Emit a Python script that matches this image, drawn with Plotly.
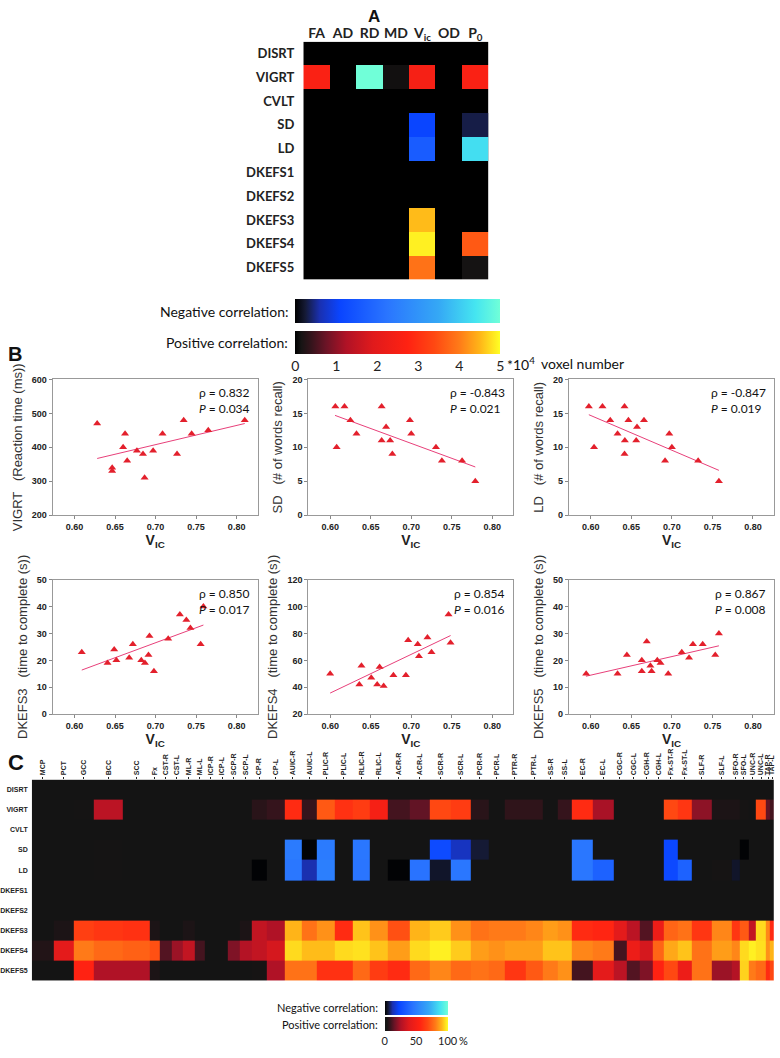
import plotly.graph_objects as go

W, H = 780, 1058
def px(x): return x / W
def py(y): return 1 - y / H

# ---------------- Panel A data ----------------
a_tests = ["DISRT", "VIGRT", "CVLT", "SD", "LD", "DKEFS1", "DKEFS2", "DKEFS3", "DKEFS4", "DKEFS5"]
a_metrics = ["FA", "AD", "RD", "MD", "V<sub>ic</sub>", "OD", "P<sub>0</sub>"]
# voxel number (x10^4) with positive correlation
a_pos = [
    [0, 0, 0, 0, 0, 0, 0],
    [2.6, 0, 0, 0.12, 2.5, 0, 2.6],
    [0, 0, 0, 0, 0, 0, 0],
    [0, 0, 0, 0, 0, 0, 0],
    [0, 0, 0, 0, 0, 0, 0],
    [0, 0, 0, 0, 0, 0, 0],
    [0, 0, 0, 0, 0, 0, 0],
    [0, 0, 0, 0, 4.55, 0, 0],
    [0, 0, 0, 0, 4.9, 0, 3.6],
    [0, 0, 0, 0, 3.9, 0, 0.14],
]
# voxel number (x10^4) with negative correlation
a_neg = [
    [None] * 7,
    [None, None, 5.0, None, None, None, None],
    [None] * 7,
    [None, None, None, None, 1.1, None, 0.3],
    [None, None, None, None, 1.65, None, 4.3],
    [None] * 7,
    [None] * 7,
    [None] * 7,
    [None] * 7,
    [None] * 7,
]
a_ticks = [0, 1, 2, 3, 4, 5]

# ---------------- Panel B data ----------------
vic1 = [0.628, 0.6465, 0.6465, 0.6624, 0.660, 0.665, 0.677, 0.6845, 0.6865, 0.697, 0.7086, 0.7265, 0.7347, 0.7445, 0.765, 0.81]
vigrt = [470, 340, 330, 440, 400, 360, 390, 380, 310, 390, 440, 380, 480, 440, 450, 480]
vic2 = [0.6064, 0.608, 0.6177, 0.625, 0.6325, 0.6635, 0.6635, 0.669, 0.674, 0.6767, 0.6984, 0.700, 0.7305, 0.7378, 0.7627, 0.779]
sd = [16, 10, 16, 14, 12, 16, 11, 13, 11, 9, 14, 12, 10, 8, 8, 5]
vic3 = [0.5976, 0.604, 0.6144, 0.624, 0.633, 0.6416, 0.642, 0.6416, 0.6464, 0.656, 0.657, 0.6656, 0.6916, 0.6968, 0.700, 0.7324, 0.758]
ld = [16, 10, 16, 14, 12, 16, 11, 9, 14, 11, 13, 14, 8, 12, 10, 8, 5]
vic4 = [0.609, 0.6408, 0.649, 0.6517, 0.6675, 0.672, 0.6824, 0.6869, 0.6913, 0.6925, 0.698, 0.7156, 0.730, 0.738, 0.743, 0.7556, 0.759]
dkefs3 = [23, 19, 24, 20, 21, 26, 20, 19, 22, 29, 16, 28, 37, 35, 32, 26, 40]
vic5 = [0.600, 0.636, 0.6386, 0.6507, 0.658, 0.661, 0.666, 0.678, 0.6934, 0.6962, 0.708, 0.7095, 0.720, 0.725, 0.746, 0.7485]
dkefs4 = [50, 42, 56, 47, 42, 55, 41, 49, 49, 75, 72, 63, 77, 66, 94, 73]
vic6 = [0.5943, 0.633, 0.6445, 0.6629, 0.6629, 0.669, 0.6735, 0.675, 0.682, 0.686, 0.6955, 0.7122, 0.7212, 0.726, 0.738, 0.7535, 0.758]
dkefs5 = [15, 15, 22, 20, 16, 27, 18, 16, 20, 19, 15, 23, 21, 26, 26, 22, 30]

fit_x = [[0.628, 0.81], [0.606, 0.779], [0.5976, 0.758], [0.609, 0.759], [0.600, 0.7485], [0.594, 0.758]]
fit_y = [[367, 470], [14.7, 7.1], [14.8, 6.6], [16.4, 33.1], [35.7, 78.4], [14.1, 25.4]]
rhos = ["0.832", "-0.843", "-0.847", "0.850", "0.854", "0.867"]
pvals = ["0.034", "0.021", "0.019", "0.017", "0.016", "0.008"]
ytitles = ["VIGRT   (Reaction time (ms))", "SD   (# of words recall)", "LD   (# of words recall)",
           "DKEFS3   (time to complete (s))", "DKEFS4   (time to complete (s))", "DKEFS5   (time to complete (s))"]
yranges = [[200, 600], [0, 20], [0, 20], [0, 50], [20, 120], [0, 50]]
ydticks = [100, 5, 5, 10, 20, 10]
x_ticks = [0.60, 0.65, 0.70, 0.75, 0.80]

# ---------------- Panel C data ----------------
c_tests = a_tests
c_tracts = ["MCP", "PCT", "GCC", "BCC", "SCC", "Fx", "CST-R", "CST-L", "ML-R", "ML-L", "ICP-R", "ICP-L",
            "SCP-R", "SCP-L", "CP-R", "CP-L", "AUIC-R", "AUIC-L", "PLIC-R", "PLIC-L", "RLIC-R", "RLIC-L",
            "ACR-R", "ACR-L", "SCR-R", "SCR-L", "PCR-R", "PCR-L", "PTR-R", "PTR-L", "SS-R", "SS-L",
            "EC-R", "EC-L", "CGC-R", "CGC-L", "CGH-R", "CGH-L", "Fx-ST-R", "Fx-ST-L", "SLF-R", "SLF-L",
            "SFO-R", "SFO-L", "UNC-R", "UNC-L", "TAP-R", "TAP-L"]
# relative column widths of each tract in the chart
c_widths = [22, 20, 21, 29, 27, 10, 12, 11, 12, 11, 11, 12, 12, 12, 15, 18, 17, 16, 18, 18, 17, 18,
            22, 21, 21, 20, 18, 16, 21, 18, 15, 14, 21, 21, 13, 14, 13, 11, 14, 14, 20, 20,
            8, 9, 8, 10, 4, 4]
Z = [0] * 48
c_pos = [
    Z,
    [0, 0, 2, 28, 0, 0, 0, 0, 0, 0, 0, 0, 0, 0, 6, 8, 58, 8, 72, 60, 64, 50,
     10, 14, 68, 64, 6, 0, 7, 7, 0, 8, 58, 24, 0, 0, 0, 0, 68, 62, 20, 4,
     4, 3, 0, 68, 14, 10],
    Z,
    [0, 0, 0, 2, 0, 0, 0, 0, 0, 0, 0, 0, 0, 0, 0, 0, 0, 0, 0, 0, 0, 0,
     0, 0, 0, 0, 0, 0, 0, 0, 0, 0, 0, 0, 0, 0, 0, 0, 0, 0, 0, 0,
     0, 0, 0, 0, 0, 0],
    [0, 0, 0, 2, 0, 0, 0, 0, 0, 0, 0, 0, 0, 0, 0, 0, 0, 0, 0, 0, 0, 0,
     0, 0, 0, 0, 0, 0, 0, 0, 0, 0, 0, 0, 0, 0, 0, 0, 0, 0, 0, 3,
     0, 0, 0, 0, 0, 0],
    Z,
    Z,
    [0, 4, 65, 62, 60, 4, 0, 0, 4, 0, 0, 0, 0, 4, 30, 25, 90, 78, 84, 58, 92, 84,
     70, 90, 93, 84, 78, 80, 80, 82, 86, 84, 58, 56, 40, 28, 12, 45, 75, 78, 62, 82,
     62, 72, 30, 95, 82, 58],
    [5, 40, 80, 76, 74, 70, 12, 22, 30, 10, 0, 0, 18, 26, 30, 35, 95, 91, 91, 95, 96, 92,
     86, 95, 98, 93, 86, 84, 86, 86, 92, 92, 82, 80, 10, 45, 35, 75, 88, 92, 78, 86,
     82, 95, 98, 96, 84, 90],
    [0, 0, 55, 25, 25, 4, 0, 0, 0, 0, 0, 0, 0, 0, 3, 25, 78, 78, 60, 60, 76, 64,
     58, 76, 82, 76, 78, 76, 62, 72, 80, 84, 10, 40, 28, 12, 18, 55, 68, 45, 78, 22,
     26, 94, 80, 76, 58, 68],
]
N = [None] * 48
c_neg = [
    N, N, N,
    [None] * 16 + [48, 0.5, 48, None, 46, None, None, None, 25, 14, 5, None, None, None, None, None,
                   46, None, None, None, None, None, 23, None, None, None, None, 0.5, None, None, None, None],
    [None] * 14 + [0.5, None, 46, 12, 50, None, 45, None, 0.5, 44, 4, 46, None, None, None, None, None, None,
                   46, 36, None, None, None, None, 24, 36, None, None, 4, None, None, None, None, None],
    N, N, N, N, N,
]
c_ticks = [0, 50, 100]

# ---------------- colours ----------------
pos_scale = [[0.0, '#000000'], [0.03, '#161414'], [0.08, '#35141c'], [0.15, '#6a1426'], [0.25, '#b01226'],
             [0.38, '#e01a1c'], [0.55, '#ff2212'], [0.68, '#ff4812'], [0.8, '#ff7a18'], [0.9, '#ffb418'],
             [1.0, '#ffff24']]
pos_scale_c = [[0.0, '#141414']] + pos_scale[1:]
neg_scale = [[0.0, '#000000'], [0.05, '#151a35'], [0.12, '#1a30b0'], [0.22, '#0a45ff'], [0.45, '#2a75ff'],
             [0.7, '#35a8f5'], [0.88, '#45e5f0'], [1.0, '#70ffd8']]

fig = go.Figure()

# Panel A heatmaps
fig.add_trace(go.Heatmap(z=a_pos, x=list(range(7)), y=list(range(10)), coloraxis='coloraxis',
                         xaxis='x', yaxis='y', hoverinfo='skip'))
fig.add_trace(go.Heatmap(z=a_neg, x=list(range(7)), y=list(range(10)), coloraxis='coloraxis2',
                         xaxis='x', yaxis='y', hoverinfo='skip'))

# Panel B scatters
xs = [vic1, vic2, vic3, vic4, vic5, vic6]
ys = [vigrt, sd, ld, dkefs3, dkefs4, dkefs5]
for i in range(6):
    ax = str(i + 2)
    fig.add_trace(go.Scatter(x=fit_x[i], y=fit_y[i], mode='lines', line=dict(color='#e8407a', width=1),
                             xaxis='x' + ax, yaxis='y' + ax, showlegend=False))
    fig.add_trace(go.Scatter(x=xs[i], y=ys[i], mode='markers',
                             marker=dict(symbol='triangle-up', size=7, color='#e3202c'),
                             xaxis='x' + ax, yaxis='y' + ax, showlegend=False))

# Panel C heatmaps
edges = [0]
for w in c_widths:
    edges.append(edges[-1] + w)
centers = [(edges[i] + edges[i + 1]) / 2 for i in range(48)]
fig.add_trace(go.Heatmap(z=c_pos, x=edges, y=list(range(10)), coloraxis='coloraxis3',
                         xaxis='x8', yaxis='y8', hoverinfo='skip'))
fig.add_trace(go.Heatmap(z=c_neg, x=edges, y=list(range(10)), coloraxis='coloraxis4',
                         xaxis='x8', yaxis='y8', hoverinfo='skip'))

lay = dict(width=W, height=H, margin=dict(l=0, r=0, t=0, b=0), paper_bgcolor='white',
           plot_bgcolor='white', showlegend=False, font=dict(family='Liberation Sans', color='#222'))

# Panel A axes
lay['xaxis'] = dict(domain=[px(300), px(487)], range=[-0.5, 6.5], side='top', tickvals=list(range(7)),
                    ticktext=a_metrics, ticks='', showgrid=False, zeroline=False, anchor='y',
                    tickfont=dict(family='Lato', size=14, weight='bold', color='#222'))
lay['yaxis'] = dict(domain=[py(277), py(37)], range=[9.5, -0.5], tickvals=list(range(10)), ticktext=a_tests,
                    ticks='', showgrid=False, zeroline=False, anchor='x', ticklabelstandoff=8,
                    tickfont=dict(family='Lato', size=13, weight='bold', color='#222'))

# Panel B axes
cols = [(47, 254), (305, 512), (568, 775)]
rows = [(378, 515), (580, 716)]
for i in range(6):
    r, c = divmod(i, 3)
    ax = str(i + 2)
    lo, hi = yranges[i]
    lay['xaxis' + ax] = dict(domain=[px(cols[c][0]), px(cols[c][1])], range=[0.573, 0.826], anchor='y' + ax,
                             tickvals=x_ticks, ticktext=['%.2f' % v for v in x_ticks], ticks='outside',
                             ticklen=3, tickcolor='#888', showline=True, mirror=True, linecolor='#999',
                             linewidth=1, showgrid=False, zeroline=False,
                             tickfont=dict(family='Liberation Sans', size=9, weight='bold', color='#222'),
                             title=dict(text='<b>V<sub>IC</sub></b>', standoff=4,
                                        font=dict(family='Liberation Sans', size=14, color='#222')))
    lay['yaxis' + ax] = dict(domain=[py(rows[r][1]), py(rows[r][0])], range=[lo, hi], anchor='x' + ax,
                             dtick=ydticks[i], tick0=lo, ticks='outside', ticklen=3, tickcolor='#888',
                             showline=True, mirror=True, linecolor='#999', linewidth=1, showgrid=False,
                             zeroline=False,
                             tickfont=dict(family='Liberation Sans', size=9, weight='bold', color='#222'),
                             title=dict(text=ytitles[i], standoff=6,
                                        font=dict(family='Liberation Sans', size=13, color='#333')))

# Panel C axes
lay['xaxis8'] = dict(domain=[px(26), px(775)], range=[0, edges[-1]], side='top', anchor='y8',
                     tickvals=centers, ticktext=c_tracts, tickangle=-90, ticks='outside', ticklen=2,
                     tickcolor='#222', showgrid=False, zeroline=False,
                     tickfont=dict(family='Liberation Sans', size=7, weight='bold', color='#222'))
lay['yaxis8'] = dict(domain=[py(985), py(782)], range=[9.5, -0.5], tickvals=list(range(10)), ticktext=c_tests,
                     ticks='', showgrid=False, zeroline=False, anchor='x8', ticklabelstandoff=3,
                     tickfont=dict(family='Liberation Sans', size=7, weight='bold', color='#222'))

# colour axes / colour bars
lay['coloraxis'] = dict(colorscale=pos_scale, cmin=0, cmax=5,
                        colorbar=dict(orientation='h', x=px(292), xanchor='left', y=py(329), yanchor='top',
                                      len=205, lenmode='pixels', thickness=23, xpad=0, ypad=0,
                                      outlinewidth=0, tickvals=a_ticks, ticktext=[str(t) for t in a_ticks],
                                      ticks='', tickfont=dict(family='Lato', size=14, color='#222')))
lay['coloraxis2'] = dict(colorscale=neg_scale, cmin=0, cmax=5,
                         colorbar=dict(orientation='h', x=px(292), xanchor='left', y=py(297), yanchor='top',
                                       len=205, lenmode='pixels', thickness=24, xpad=0, ypad=0,
                                       outlinewidth=0, showticklabels=False, ticks=''))
lay['coloraxis3'] = dict(colorscale=pos_scale_c, cmin=0, cmax=100,
                         colorbar=dict(orientation='h', x=px(382), xanchor='left', y=py(1022), yanchor='top',
                                       len=63, lenmode='pixels', thickness=14, xpad=0, ypad=0,
                                       outlinewidth=0, tickvals=c_ticks, ticktext=[str(t) for t in c_ticks],
                                       ticks='', tickfont=dict(family='Lato', size=11, color='#222')))
lay['coloraxis4'] = dict(colorscale=neg_scale, cmin=0, cmax=100,
                         colorbar=dict(orientation='h', x=px(382), xanchor='left', y=py(1005), yanchor='top',
                                       len=63, lenmode='pixels', thickness=14, xpad=0, ypad=0,
                                       outlinewidth=0, showticklabels=False, ticks=''))

ann = []
def add_text(x, y, text, size, xanchor='left', bold=False, family='Lato', yanchor='middle'):
    ann.append(dict(x=px(x), y=py(y), xref='paper', yref='paper', text=('<b>%s</b>' % text) if bold else text,
                    showarrow=False, xanchor=xanchor, yanchor=yanchor,
                    font=dict(family=family, size=size, color='#111')))

add_text(371, 12, 'A', 17, 'center', True, 'Liberation Sans')
add_text(287, 309, 'Negative correlation:', 14, 'right')
add_text(287, 341, 'Positive correlation:', 14, 'right')
add_text(504, 362, '*10<sup>4</sup>', 14, 'left')
add_text(538, 362, 'voxel number', 14, 'left')
add_text(0, 352, 'B', 20, 'left', True, 'Liberation Sans')
add_text(0, 765, 'C', 22, 'left', True, 'Liberation Sans')
add_text(377, 1012, 'Negative correlation:', 11, 'right')
add_text(377, 1029, 'Positive correlation:', 11, 'right')
add_text(455, 1045, '%', 11, 'left')

for i in range(6):
    ax = str(i + 2)
    ann.append(dict(x=0.97, y=0.97, xref='x%s domain' % ax, yref='y%s domain' % ax, xanchor='right',
                    yanchor='top', align='left', showarrow=False,
                    text='ρ = %s<br><i>P</i> = %s' % (rhos[i], pvals[i]),
                    font=dict(family='Lato', size=12, color='#111')))
lay['annotations'] = ann

fig.update_layout(**lay)
fig.write_html('out.html', config={'displayModeBar': False},
               post_script="document.body.style.margin='0';document.body.style.overflow='hidden';")
